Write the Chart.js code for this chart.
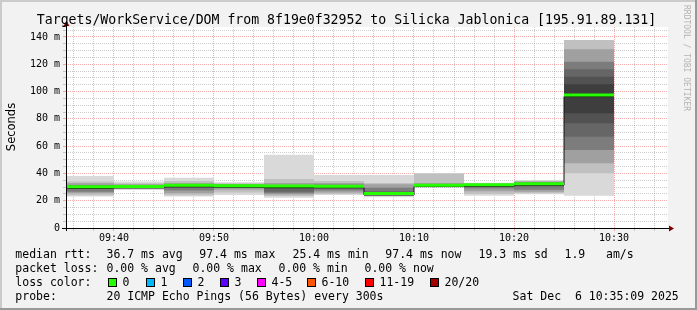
<!DOCTYPE html>
<html>
<head>
<meta charset="utf-8">
<script src="https://cdn.jsdelivr.net/npm/chart.js@4"></script>
<style>
html,body{margin:0;padding:0;background:#f2f2f2;}
#wrap{width:697px;height:310px;position:relative;}
</style>
</head>
<body>
<div id="wrap"><canvas id="c" width="697" height="310"></canvas></div>
<script>
// ---- data ----
const intervalStarts = ['09:35','09:40','09:45','09:50','09:55','10:00','10:05','10:10','10:15','10:20','10:25'];
const medianRtt  = [30.2, 30.5, 31.3, 31.0, 30.8, 30.6, 25.3, 31.4, 31.7, 32.5, 97.4];
// nested smoke bands (outermost first)
const band1Low   = [23.0, 27.9, 23.0, 24.2, 22.2, 24.2, 22.5, 30.4, 23.7, 24.7, 23.7];
const band1High  = [38.1, 34.0, 36.9, 33.5, 53.7, 38.9, 38.9, 40.3, 33.2, 35.2, 137.8];
const band2Low   = [24.0, 28.5, 24.0, 26.0, 23.5, 25.0, 23.5, 30.6, 25.0, 25.5, 40.1];
const band2High  = [34.0, 32.8, 34.5, 32.8, 36.0, 34.5, 33.0, 40.0, 32.8, 34.5, 137.8];
const band3Low   = [25.5, 29.2, 25.5, 28.0, 24.5, 26.0, 24.0, 30.8, 27.0, 26.5, 47.4];
const band3High  = [32.8, 32.0, 33.0, 32.0, 33.0, 33.0, 32.0, 33.0, 32.4, 34.0, 131.0];
const band4Low   = [26.5, 29.6, 27.5, 29.5, 25.5, 27.5, 24.5, 31.0, 29.0, 28.0, 57.2];
const band4High  = [31.5, 31.5, 32.3, 31.7, 31.5, 31.8, 29.5, 32.3, 32.1, 33.5, 121.9];
const band5Low   = [28.5, 30.0, 29.5, 30.3, 26.5, 29.0, 25.0, 31.2, 30.8, 30.5, 66.9];
const band5High  = [30.5, 31.0, 31.8, 31.4, 30.0, 30.8, 27.0, 31.8, 31.9, 32.8, 116.3];
const band6Low   = [29.6, 30.0, 30.8, 30.5, 28.5, 30.1, 24.8, 31.0, 31.2, 32.0, 76.7];
const band6High  = [30.6, 31.0, 31.8, 31.5, 30.8, 31.1, 25.8, 31.8, 32.2, 33.0, 110.9];
const band7Low   = [29.8, 30.1, 30.9, 30.6, 29.5, 30.2, 24.9, 31.1, 31.3, 32.1, 84.1];
const band7High  = [30.6, 30.9, 31.7, 31.4, 30.6, 31.0, 25.7, 31.7, 32.1, 32.9, 105.3];
const xTickLabels = ['09:40','09:50','10:00','10:10','10:20','10:30'];
const yTickValues = [0, 20, 40, 60, 80, 100, 120, 140];
const lossLabels = ['0','1','2','3','4-5','6-10','11-19','20/20'];
const lossColors = ['#26ff00','#00b8ff','#0059ff','#5e00ff','#ff00ff','#ff5500','#ff0000','#a10000'];
const titleText = 'Targets/WorkService/DOM from 8f19e0f32952 to Silicka Jablonica [195.91.89.131]';
const rttStats = ['36.7 ms avg','97.4 ms max','25.4 ms min','97.4 ms now','19.3 ms sd','1.9','am/s'];
const lossStats = ['0.00 % avg','0.00 % max','0.00 % min','0.00 % now'];
const probeText = '20 ICMP Echo Pings (56 Bytes) every 300s';
const stampText = 'Sat Dec  6 10:35:09 2025';

// ---- helpers ----
const toMin = s => { const p = s.split(':').map(Number); return p[0]*60 + p[1]; };
const STEP = 5;
const centers = intervalStarts.map(s => toMin(s) + STEP/2);
const MONO = '"DejaVu Sans Mono", monospace';
const X_MIN = toMin('09:35') + 0.2, X_MAX = toMin('10:35') + 0.4;
const PLOT_W = 602;
const BAR_W = STEP * PLOT_W / (X_MAX - X_MIN);

function layer(lo, hi, color, order) {
  return {
    type: 'bar',
    data: centers.map((x, i) => ({x: x, y: [lo[i], hi[i]]})),
    backgroundColor: color,
    borderWidth: 0,
    grouped: false,
    barThickness: BAR_W,
    inflateAmount: 0,
    order: order
  };
}
const BAND = 1.1;
const greenBand = {
  type: 'bar',
  data: centers.map((x, i) => ({x: x, y: [medianRtt[i] - BAND, medianRtt[i] + BAND]})),
  backgroundColor: lossColors[0],
  borderWidth: 0, grouped: false, barThickness: BAR_W, inflateAmount: 0,
  order: 1
};
const lastI = intervalStarts.length - 1;
const medianLine = {
  type: 'line',
  data: intervalStarts.map((s, i) => ({x: toMin(s), y: medianRtt[i] - BAND}))
        .concat([{x: toMin(intervalStarts[lastI]) + STEP, y: medianRtt[lastI] - BAND}]),
  borderColor: '#111', borderWidth: 1, pointRadius: 0, stepped: 'before', fill: false,
  order: 2
};

const majorX = xTickLabels.map(toMin);
const GRID_MINOR = 'rgba(130,130,130,0.4)';
const GRID_MAJOR = 'rgba(230,70,70,0.45)';

const framePlugin = {
  id: 'frame',
  beforeDraw(chart) {
    const ctx = chart.ctx, a = chart.chartArea, W = chart.width, H = chart.height;
    ctx.save();
    ctx.fillStyle = '#f2f2f2'; ctx.fillRect(0, 0, W, H);
    ctx.fillStyle = '#cbcbcb'; ctx.fillRect(0, 0, W, 2); ctx.fillRect(0, 0, 2, H);
    ctx.fillStyle = '#999999'; ctx.fillRect(0, H-2, W, 2); ctx.fillRect(W-2, 0, 2, H);
    ctx.fillStyle = '#ffffff'; ctx.fillRect(a.left, a.top, a.right - a.left, a.bottom - a.top);
    ctx.restore();
  },
  afterDraw(chart) {
    const ctx = chart.ctx, a = chart.chartArea;
    ctx.save();
    // axes
    ctx.strokeStyle = '#000'; ctx.lineWidth = 1;
    ctx.beginPath();
    ctx.moveTo(a.left - 4, a.bottom + 0.5); ctx.lineTo(a.right + 2, a.bottom + 0.5);
    ctx.moveTo(a.left + 0.5, a.bottom + 3); ctx.lineTo(a.left + 0.5, a.top - 2);
    ctx.stroke();
    ctx.fillStyle = '#7f0000';
    ctx.beginPath();
    ctx.moveTo(a.right + 6, a.bottom + 0.5); ctx.lineTo(a.right + 1, a.bottom - 2.5); ctx.lineTo(a.right + 1, a.bottom + 3.5); ctx.closePath(); ctx.fill();
    ctx.beginPath();
    ctx.moveTo(a.left + 0.5, a.top - 6); ctx.lineTo(a.left - 2.5, a.top - 1); ctx.lineTo(a.left + 3.5, a.top - 1); ctx.closePath(); ctx.fill();

    // title
    ctx.fillStyle = '#000';
    ctx.font = '13.2px ' + MONO; ctx.textAlign = 'center'; ctx.textBaseline = 'alphabetic';
    ctx.fillText(titleText, 346.5, 24);

    // y axis title
    ctx.save();
    ctx.translate(15, 127); ctx.rotate(-Math.PI/2);
    ctx.font = '11.5px "DejaVu Sans", sans-serif'; ctx.textAlign = 'center';
    ctx.fillText('Seconds', 0, 0);
    ctx.restore();

    // watermark
    ctx.save();
    ctx.translate(684, 5); ctx.rotate(Math.PI/2);
    ctx.font = '8px ' + MONO; ctx.textAlign = 'left'; ctx.textBaseline = 'alphabetic';
    ctx.fillStyle = '#b4b4b4';
    ctx.fillText('RRDTOOL / TOBI OETIKER', 0, 0);
    ctx.restore();

    // legend
    ctx.font = '11.5px ' + MONO; ctx.textAlign = 'left'; ctx.fillStyle = '#000';
    const x0 = 15.3;
    ctx.fillText('median rtt:', x0, 258);
    const rttX = [106.5, 199.3, 292.5, 385.3, 478.5, 564.5, 606];
    rttStats.forEach((t, i) => ctx.fillText(t, rttX[i], 258));
    ctx.fillText('packet loss:', x0, 272);
    const lossX = [106.5, 192.5, 278.5, 364.5];
    lossStats.forEach((t, i) => ctx.fillText(t, lossX[i], 272));
    ctx.fillText('loss color:', x0, 286);
    const boxX = [108, 146, 183, 220, 257, 307, 365, 430];
    lossLabels.forEach((t, i) => {
      ctx.fillStyle = lossColors[i]; ctx.fillRect(boxX[i], 278, 9, 9);
      ctx.strokeStyle = '#000'; ctx.lineWidth = 1; ctx.strokeRect(boxX[i] + 0.5, 278.5, 8, 8);
      ctx.fillStyle = '#000'; ctx.fillText(t, boxX[i] + 14.5, 286);
    });
    ctx.fillText('probe:', x0, 300);
    ctx.fillText(probeText, 106.5, 300);
    ctx.fillText(stampText, 512.6, 300);
    ctx.restore();
  }
};

Chart.defaults.font.family = MONO;
new Chart(document.getElementById('c'), {
  type: 'bar',
  data: {
    datasets: [
      greenBand,
      medianLine,
      layer(band7Low, band7High, '#3e3e3e', 3),
      layer(band6Low, band6High, '#525252', 4),
      layer(band5Low, band5High, '#666666', 5),
      layer(band4Low, band4High, '#7c7c7c', 6),
      layer(band3Low, band3High, '#a0a0a0', 7),
      layer(band2Low, band2High, '#c0c0c0', 8),
      layer(band1Low, band1High, '#d9d9d9', 9)
    ]
  },
  options: {
    responsive: false,
    animation: false,
    devicePixelRatio: 1,
    layout: {padding: {left: 0, right: 29, top: 27, bottom: 62}},
    plugins: {legend: {display: false}, tooltip: {enabled: false}, title: {display: false}},
    scales: {
      x: {
        type: 'linear', offset: false, z: 1,
        min: X_MIN, max: X_MAX,
        afterBuildTicks: sc => { const t = []; for (let v = toMin('09:36'); v <= toMin('10:34'); v += 2) t.push({value: v}); sc.ticks = t; },
        afterFit: sc => { sc.height = 20; },
        ticks: {
          autoSkip: false, maxRotation: 0, padding: 1, color: '#000',
          font: {family: MONO, size: 10},
          callback: v => { const i = majorX.indexOf(v); return i >= 0 ? xTickLabels[i] : ''; }
        },
        grid: {
          offset: false, drawTicks: true, tickLength: 3,
          color: c => (c.tick && majorX.includes(c.tick.value)) ? GRID_MAJOR : GRID_MINOR,
          tickColor: c => (c.tick && majorX.includes(c.tick.value)) ? GRID_MAJOR : GRID_MINOR
        },
        border: {display: false, dash: [1, 1]}
      },
      y: {
        type: 'linear', min: 0, max: 147.3, z: 1,
        afterBuildTicks: sc => { const t = []; for (let v = 0; v <= 145; v += 5) t.push({value: v}); sc.ticks = t; },
        afterFit: sc => { sc.width = 66; },
        ticks: {
          autoSkip: false, padding: 3, color: '#000',
          font: {family: MONO, size: 10},
          callback: v => yTickValues.includes(v) ? (v === 0 ? '0' : v + ' m') : ''
        },
        grid: {
          drawTicks: true, tickLength: 3,
          color: c => (c.tick && yTickValues.includes(c.tick.value)) ? GRID_MAJOR : GRID_MINOR,
          tickColor: c => (c.tick && yTickValues.includes(c.tick.value)) ? GRID_MAJOR : GRID_MINOR
        },
        border: {display: false, dash: [1, 1]}
      }
    }
  },
  plugins: [framePlugin]
});
</script>
</body>
</html>
